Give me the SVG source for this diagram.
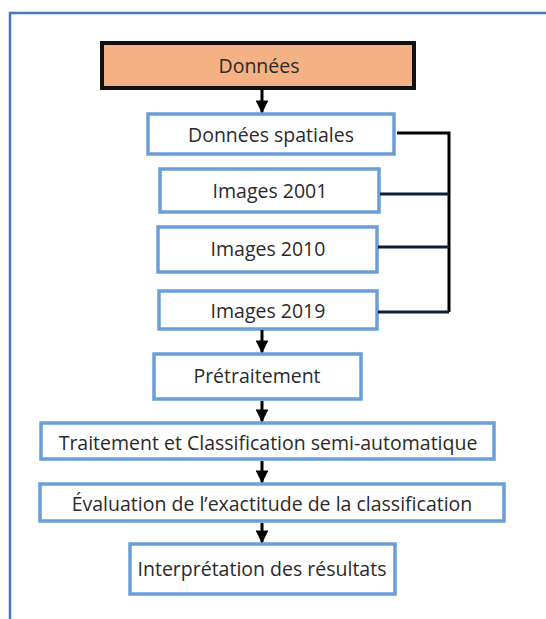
<svg xmlns="http://www.w3.org/2000/svg" width="546" height="619" viewBox="0 0 546 619">
<style>
.box{fill:#ffffff;stroke:#6a9ed6;stroke-width:3.5}
.top{fill:#f4b183;stroke:#111111;stroke-width:4}
.t{font-family:"Open Sans","Liberation Sans",sans-serif;font-size:19.5px;fill:#2a2a2a;text-anchor:middle;dominant-baseline:central}
.arr{stroke:#000;stroke-width:3;fill:none}
.br{stroke:#0b1f3c;stroke-width:3;fill:none}
</style>
<defs>
<marker id="ah" viewBox="0 0 10 10" refX="9" refY="5" markerWidth="4.3" markerHeight="4.3" markerUnits="strokeWidth" orient="auto">
<path d="M0,0 L10,5 L0,10 z" fill="#000"/>
</marker>
</defs>
<rect width="546" height="619" fill="#ffffff"/>
<path d="M10,619 V13 H546" fill="none" stroke="#4a78b0" stroke-width="2.5"/>
<g id="donnees"><rect class="top" x="102" y="43" width="312" height="45"/><text class="t" x="259" y="65">Données</text></g>
<g id="donnees-spatiales"><rect class="box" x="148" y="114" width="246" height="40"/><text class="t" x="271" y="134">Données spatiales</text></g>
<g id="images-2001"><rect class="box" x="160" y="169" width="219" height="43"/><text class="t" x="270" y="190">Images 2001</text></g>
<g id="images-2010"><rect class="box" x="158" y="227" width="219" height="45"/><text class="t" x="268" y="248">Images 2010</text></g>
<g id="images-2019"><rect class="box" x="159" y="291" width="218" height="38"/><text class="t" x="268" y="310">Images 2019</text></g>
<g id="pretraitement"><rect class="box" x="154" y="354" width="207" height="45"/><text class="t" x="257" y="375">Prétraitement</text></g>
<g id="traitement"><rect class="box" x="41" y="423" width="453" height="36"/><text class="t" x="268" y="442">Traitement et Classification semi-automatique</text></g>
<g id="evaluation"><rect class="box" x="40" y="484" width="464" height="37"/><text class="t" x="272" y="503">Évaluation de l’exactitude de la classification</text></g>
<g id="interpretation"><rect class="box" x="130" y="544" width="265" height="50"/><text class="t" x="262" y="568">Interprétation des résultats</text></g>
<g id="connectors">
<line class="arr" x1="262" y1="89" x2="262" y2="112" marker-end="url(#ah)"/>
<line class="arr" x1="262" y1="330" x2="262" y2="352" marker-end="url(#ah)"/>
<line class="arr" x1="262" y1="401" x2="262" y2="421" marker-end="url(#ah)"/>
<line class="arr" x1="262" y1="461" x2="262" y2="482" marker-end="url(#ah)"/>
<line class="arr" x1="262" y1="523" x2="262" y2="542" marker-end="url(#ah)"/>
<path d="M397,133 H449 V312" stroke="#000" stroke-width="3" fill="none"/>
<line class="br" x1="380" y1="194" x2="449" y2="194"/>
<line class="br" x1="378" y1="247" x2="449" y2="247"/>
<line class="br" x1="378" y1="312" x2="449" y2="312"/>
</g>
</svg>
